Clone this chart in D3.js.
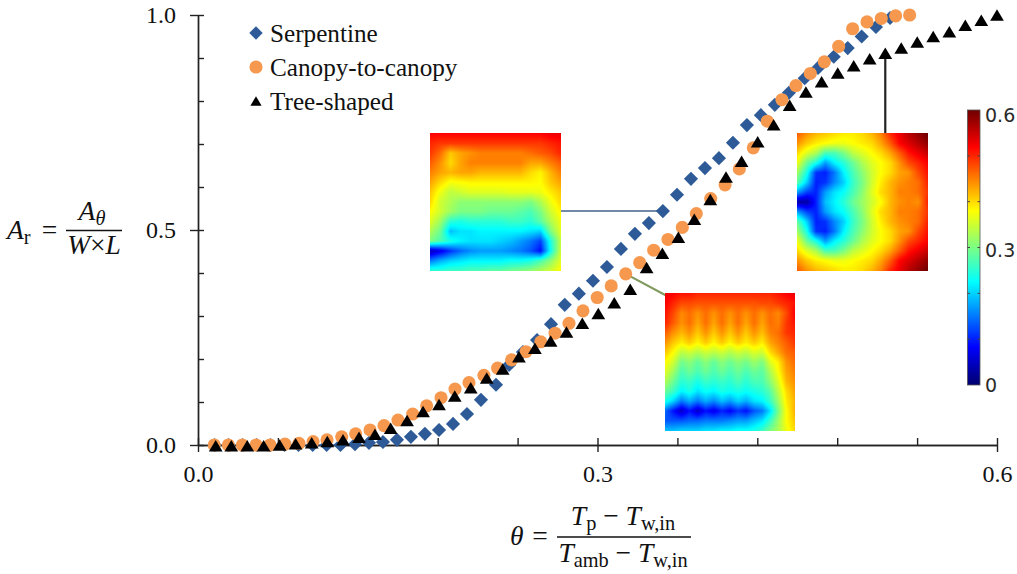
<!DOCTYPE html>
<html>
<head>
<meta charset="utf-8">
<script src="https://cdn.jsdelivr.net/npm/d3@7"></script>
<style>
body { margin: 0; background: #fff; }
svg { display: block; }
text { font-family: "Liberation Serif", serif; fill: #111; }
.cbar text { font-family: "DejaVu Sans", sans-serif; fill: #2a2a2a; }
</style>
</head>
<body>
<div id="graph1"></div>
<script>
// series
var serpentineX = [.0125,.023,.0335,.044,.0545,.065,.0755,.0861,.0966,.107,.1179,.1284,.1389,.1494,.1599,.1704,.181,.1915,.202,.2125,.2238,.2336,.244,.2546,.2651,.2754,.286,.2966,.3071,.3176,.3281,.3386,.3491,.3597,.3702,.3807,.3912,.4017,.4122,.4227,.4332,.4437,.4556,.4656,.4774,.4879,.4984,.5091,.5197];
var serpentineY = [0,0,0,0,0,0,0,0,0,0,.002,.005,.007,.012,.019,.026,.035,.049,.072,.105,.14,.186,.216,.244,.281,.326,.352,.382,.414,.456,.491,.516,.544,.582,.619,.644,.667,.703,.744,.767,.791,.819,.853,.877,.903,.923,.95,.972,.993];

var canopyX = [.0122,.0228,.0333,.0436,.0541,.0653,.0758,.0864,.0969,.1079,.1184,.1292,.1397,.1502,.1612,.1717,.1825,.193,.2035,.2147,.225,.2355,.2463,.2574,.2681,.2786,.2891,.2998,.3103,.3212,.3317,.3422,.3529,.3637,.3742,.385,.3958,.4065,.417,.4275,.4385,.449,.4598,.4703,.4811,.4916,.5024,.5131,.5239,.5344];
var canopyY = [0,0,0,0,0,.002,.004,.008,.012,.019,.026,.035,.045,.058,.072,.091,.11,.13,.145,.162,.179,.198,.217,.24,.26,.283,.312,.343,.37,.398,.424,.453,.478,.506,.538,.573,.605,.642,.691,.753,.803,.836,.864,.891,.927,.968,.984,.992,.998,1];

var treeX = [.0133,.025,.037,.0493,.0613,.0733,.0854,.0971,.1089,.1209,.1329,.1447,.157,.169,.181,.1928,.2048,.2168,.2288,.241,.253,.2648,.2767,.2886,.3006,.3126,.3246,.3369,.3487,.3607,.3727,.3847,.3965,.4082,.4203,.4323,.4443,.4565,.4683,.4804,.4924,.5044,.5161,.5281,.5401,.5521,.5642,.5762,.5882,.6];
var treeY = [-.002,-.002,-.002,-.002,0,.003,.005,.008,.012,.018,.025,.039,.057,.078,.094,.114,.133,.156,.177,.205,.225,.242,.263,.283,.306,.331,.362,.413,.446,.483,.525,.571,.623,.66,.705,.745,.79,.821,.845,.865,.882,.898,.911,.923,.937,.95,.961,.976,.988,1];

var seriesNames = ["Serpentine", "Canopy-to-canopy", "Tree-shaped"];
var xMajor = [0, .3, .6];
var xMinor = [.06, .12, .18, .24, .36, .42, .48, .54];
var yMajor = [0, .5, 1];
var yMinor = [.1, .2, .3, .4, .6, .7, .8, .9];
var cbarStops = [0, .083, .225, .38, .52, .6];
var cbarColors = ["#00006e", "#0000ff", "#00ffff", "#ffff00", "#ff0000", "#6e0000"];
var cbarLabels = [0, .3, .6];
var cbarTicks = [.1, .2, .3, .4, .5];

// temperature fields of the three plates
var serpentineField = [
[.52,.52,.52,.52,.52,.52,.52,.52,.52,.52,.52,.52,.53,.53],
[.50,.49,.49,.49,.49,.49,.49,.49,.49,.49,.49,.49,.50,.51],
[.49,.46,.41,.43,.44,.45,.45,.45,.45,.45,.46,.47,.48,.50],
[.47,.44,.40,.43,.45,.45,.45,.45,.45,.45,.43,.43,.45,.47],
[.45,.43,.42,.43,.43,.42,.42,.42,.42,.42,.40,.385,.42,.45],
[.43,.40,.375,.38,.385,.385,.385,.385,.385,.385,.385,.38,.41,.43],
[.41,.37,.34,.35,.36,.36,.36,.36,.365,.365,.365,.37,.39,.41],
[.40,.35,.33,.31,.31,.31,.31,.31,.31,.31,.30,.33,.37,.40],
[.38,.35,.32,.30,.30,.30,.29,.29,.29,.28,.27,.30,.35,.385],
[.36,.32,.25,.24,.25,.25,.25,.25,.26,.26,.25,.28,.33,.37],
[.33,.29,.19,.21,.21,.22,.22,.22,.22,.22,.21,.20,.30,.36],
[.30,.27,.24,.22,.21,.21,.21,.20,.19,.17,.15,.12,.24,.34],
[.04,.07,.11,.14,.16,.17,.17,.17,.16,.15,.13,.09,.23,.345],
[.15,.18,.20,.21,.22,.22,.22,.22,.23,.23,.24,.27,.31,.36],
[.25,.25,.26,.26,.27,.27,.28,.28,.29,.30,.31,.33,.35,.38]
];
var canopyField = [
[.53,.52,.51,.51,.50,.50,.50,.50,.50,.50,.50,.50,.50,.50,.51,.52,.53],
[.52,.50,.48,.48,.475,.475,.475,.475,.475,.475,.475,.475,.48,.48,.49,.50,.51],
[.51,.48,.445,.46,.44,.46,.44,.46,.44,.46,.44,.46,.44,.46,.445,.48,.52],
[.50,.47,.44,.46,.43,.46,.43,.46,.43,.46,.43,.46,.43,.46,.45,.49,.51],
[.47,.44,.42,.44,.41,.44,.41,.44,.41,.44,.41,.44,.415,.45,.46,.49,.50],
[.44,.41,.39,.41,.385,.41,.385,.41,.385,.41,.39,.41,.39,.43,.45,.47,.49],
[.41,.38,.34,.35,.335,.35,.34,.35,.335,.35,.34,.36,.35,.40,.43,.46,.47],
[.38,.35,.295,.31,.285,.31,.285,.31,.29,.31,.295,.32,.30,.36,.39,.44,.46],
[.36,.32,.27,.29,.27,.29,.27,.29,.27,.29,.27,.29,.28,.33,.38,.43,.45],
[.33,.29,.25,.26,.24,.26,.25,.26,.25,.27,.25,.27,.27,.31,.36,.42,.44],
[.29,.26,.22,.24,.21,.23,.22,.24,.23,.24,.23,.24,.25,.28,.34,.40,.43],
[.24,.20,.15,.18,.15,.18,.16,.19,.17,.20,.18,.21,.22,.26,.32,.39,.42],
[.14,.09,.05,.09,.05,.09,.07,.10,.08,.11,.09,.13,.15,.21,.30,.38,.42],
[.13,.13,.13,.14,.14,.15,.15,.15,.16,.17,.17,.19,.21,.26,.32,.38,.41],
[.19,.19,.20,.20,.20,.21,.21,.22,.22,.23,.23,.24,.26,.30,.33,.37,.40]
];
var treeField = [
[.47,.44,.42,.41,.40,.39,.39,.40,.42,.45,.50,.53,.56,.58,.60],
[.44,.41,.39,.38,.37,.37,.38,.39,.40,.43,.47,.52,.54,.56,.58],
[.40,.36,.33,.27,.27,.30,.34,.36,.38,.40,.43,.47,.51,.53,.55],
[.37,.29,.24,.17,.22,.25,.29,.33,.36,.38,.40,.44,.48,.50,.52],
[.32,.24,.11,.10,.15,.22,.27,.31,.35,.38,.40,.43,.44,.48,.51],
[.28,.20,.10,.11,.16,.20,.26,.30,.35,.39,.42,.44,.45,.46,.50],
[.17,.12,.10,.17,.21,.23,.27,.31,.36,.40,.42,.45,.45,.46,.49],
[.03,.03,.10,.19,.22,.25,.29,.32,.35,.38,.42,.44,.45,.44,.50],
[.17,.12,.10,.17,.21,.23,.27,.31,.36,.40,.42,.45,.45,.46,.49],
[.28,.20,.10,.11,.16,.20,.26,.30,.35,.39,.42,.44,.45,.46,.50],
[.32,.24,.11,.10,.15,.22,.27,.31,.35,.38,.40,.43,.44,.48,.51],
[.37,.29,.24,.17,.22,.25,.29,.33,.36,.38,.40,.44,.48,.50,.52],
[.40,.36,.33,.27,.27,.30,.34,.36,.38,.40,.43,.47,.51,.53,.55],
[.44,.41,.39,.38,.37,.37,.38,.39,.40,.43,.47,.52,.54,.56,.58],
[.47,.44,.42,.41,.40,.39,.39,.40,.42,.45,.50,.53,.56,.58,.60]
];

var width = 1017, height = 574;
var svg = d3.select("#graph1").append("svg")
    .attr("width", width)
    .attr("height", height);

var xScale = d3.scaleLinear().domain([0, .6]).range([198, 997]);
var yScale = d3.scaleLinear().domain([0, 1]).range([445, 15]);
var colorScale = d3.scaleLinear().domain(cbarStops).range(cbarColors);

var axisColor = "#222";

// axes, major ticks cross the line, minor ticks point inwards
var xAxis = svg.append("g")
    .attr("transform", "translate(0,445)")
    .call(d3.axisBottom(xScale).tickValues(xMajor).tickFormat(d3.format(".1f")).tickSize(7).tickSizeOuter(0));
xAxis.selectAll(".tick line").attr("y1", -7);
xAxis.selectAll(".tick text").attr("y", 20).style("font-size", "24px").attr("dy", ".71em");
svg.append("g")
    .attr("transform", "translate(0,445)")
    .call(d3.axisBottom(xScale).tickValues(xMinor).tickFormat("").tickSize(-7).tickSizeOuter(0));

var yAxis = svg.append("g")
    .attr("transform", "translate(198,0)")
    .call(d3.axisLeft(yScale).tickValues(yMajor).tickFormat(d3.format(".1f")).tickSize(8).tickSizeOuter(0));
yAxis.selectAll(".tick line").attr("x1", 6);
yAxis.selectAll(".tick text").attr("x", -22).style("font-size", "24px");
svg.append("g")
    .attr("transform", "translate(198,0)")
    .call(d3.axisLeft(yScale).tickValues(yMinor).tickFormat("").tickSize(-6).tickSizeOuter(0));
svg.selectAll(".domain, .tick line").attr("stroke", axisColor).attr("stroke-width", 1.4);

// leaders from the plates to the curves
function leader(color, w, x1, y1, x2, y2) {
    svg.append("line")
        .attr("x1", x1).attr("y1", y1).attr("x2", x2).attr("y2", y2)
        .attr("stroke", color).attr("stroke-width", w);
}
leader("#7188a8", 2, 558, 211, xScale(serpentineX[32]), yScale(serpentineY[32]));
leader("#7f9a5c", 2, xScale(canopyX[29]), yScale(canopyY[29]), 667, 296);
leader("#222", 2.2, xScale(treeX[42]), yScale(treeY[42]), xScale(treeX[42]), 134);

// triangle centred on its bounding box
var triangleMark = {
    draw: function(context, size) {
        var s = Math.sqrt(size);
        context.moveTo(0, -s * .47);
        context.lineTo(s * .56, s * .47);
        context.lineTo(-s * .56, s * .47);
        context.closePath();
    }
};
var diamondMark = {
    draw: function(context, size) {
        var r = Math.sqrt(size / 2);
        context.moveTo(0, -r);
        context.lineTo(r, 0);
        context.lineTo(0, r);
        context.lineTo(-r, 0);
        context.closePath();
    }
};

function drawSeries(xs, ys, mark, size, color) {
    svg.append("g").selectAll("path")
        .data(d3.zip(xs, ys))
        .enter().append("path")
        .attr("d", d3.symbol().type(mark).size(size))
        .attr("fill", color)
        .attr("transform", function(d) { return "translate(" + xScale(d[0]) + "," + yScale(d[1]) + ")"; });
}
drawSeries(serpentineX, serpentineY, diamondMark, 100, "#2e5b98");
drawSeries(canopyX, canopyY, d3.symbolCircle, 135, "#f6994f");
drawSeries(treeX, treeY, triangleMark, 150, "#000");

// legend
var legendMarks = [[diamondMark, 90, "#2e5b98"], [d3.symbolCircle, 135, "#f6994f"], [triangleMark, 100, "#000"]];
var legendY = d3.scalePoint().domain(seriesNames).range([33, 101]);
var legend = svg.append("g").selectAll("g")
    .data(seriesNames)
    .enter().append("g")
    .attr("transform", function(d) { return "translate(256," + legendY(d) + ")"; });
legend.append("path")
    .attr("d", function(d, i) { return d3.symbol().type(legendMarks[i][0]).size(legendMarks[i][1])(); })
    .attr("fill", function(d, i) { return legendMarks[i][2]; });
legend.append("text")
    .attr("x", 14)
    .attr("y", 8.5)
    .style("font-size", "25.2px")
    .text(function(d) { return d; });

// heat map plates, bilinear between the read values
function drawField(field, x0, y0, w, h) {
    var canvas = document.createElement("canvas");
    canvas.width = w;
    canvas.height = h;
    var ctx = canvas.getContext("2d");
    var rows = field.length, cols = field[0].length;
    for (var py = 0; py < h; py++) {
        for (var px = 0; px < w; px++) {
            var fx = px / (w - 1) * (cols - 1), fy = py / (h - 1) * (rows - 1);
            var i = Math.min(Math.floor(fy), rows - 2), j = Math.min(Math.floor(fx), cols - 2);
            var tx = fx - j, ty = fy - i;
            var v = d3.interpolateNumber(
                d3.interpolateNumber(field[i][j], field[i][j + 1])(tx),
                d3.interpolateNumber(field[i + 1][j], field[i + 1][j + 1])(tx))(ty);
            ctx.fillStyle = colorScale(v);
            ctx.fillRect(px, py, 1, 1);
        }
    }
    svg.append("image")
        .attr("x", x0).attr("y", y0)
        .attr("width", w).attr("height", h)
        .attr("href", canvas.toDataURL());
}
drawField(serpentineField, 430, 133, 131, 138);
drawField(canopyField, 665, 293, 130, 138);
drawField(treeField, 797, 133, 131, 138);

// colour bar
var cbarY = d3.scaleLinear().domain([0, .6]).range([385, 110]);
var cbarLabelY = d3.scaleLinear().domain([0, .6]).range([385, 115]);
var grad = svg.append("defs").append("linearGradient")
    .attr("id", "cbarFill")
    .attr("x1", 0).attr("y1", 1).attr("x2", 0).attr("y2", 0);
grad.selectAll("stop")
    .data(cbarStops)
    .enter().append("stop")
    .attr("offset", function(d) { return d / .6; })
    .attr("stop-color", function(d, i) { return cbarColors[i]; });
var cbar = svg.append("g").attr("class", "cbar");
cbar.append("rect")
    .attr("x", 967.5).attr("y", cbarY(.6))
    .attr("width", 12.5).attr("height", cbarY(0) - cbarY(.6))
    .attr("fill", "url(#cbarFill)")
    .attr("stroke", "#555")
    .attr("stroke-width", .8);
cbar.selectAll(".minor")
    .data(cbarTicks)
    .enter().append("path")
    .attr("class", "minor")
    .attr("d", function(d) {
        var y = cbarY(d);
        return "M967.5," + y + "h2.5M980," + y + "h-2.5";
    })
    .attr("stroke", "#444");
cbar.selectAll("text")
    .data(cbarLabels)
    .enter().append("text")
    .attr("x", 985)
    .attr("y", cbarLabelY)
    .attr("dy", ".36em")
    .style("font-size", "19px")
    .text(function(d) { return d === 0 ? "0" : d3.format(".1f")(d); });

// equations, each part is [text, italic, subscript]
function mathText(x, y, anchor, parts, size) {
    var t = svg.append("text")
        .attr("x", x).attr("y", y)
        .attr("text-anchor", anchor)
        .style("font-size", size + "px");
    var wasSub = false;
    parts.forEach(function(p) {
        var sub = p[2] === 1;
        var dy = (sub ? 5 : 0) - (wasSub ? 5 : 0);
        t.append("tspan")
            .attr("dy", dy)
            .style("font-style", p[1] === 1 ? "italic" : "normal")
            .style("font-size", (sub ? size * .74 : size) + "px")
            .text(p[0]);
        wasSub = sub;
    });
}
function fracLine(x1, x2, y) {
    svg.append("line").attr("x1", x1).attr("x2", x2).attr("y1", y).attr("y2", y)
        .attr("stroke", "#111").attr("stroke-width", 1.6);
}

mathText(7, 239, "start", [["A", 1], ["r", 0, 1]], 27.5);
mathText(49.5, 239, "middle", [["=", 0]], 27.5);
fracLine(66, 122, 230.5);
mathText(92, 220, "middle", [["A", 1], ["θ", 1, 1]], 27.5);
mathText(94, 254, "middle", [["W", 1], ["×", 0], ["L", 1]], 27.5);

mathText(510, 545, "start", [["θ", 1]], 27.5);
mathText(540, 545, "middle", [["=", 0]], 27.5);
fracLine(557, 691, 537);
mathText(623, 525, "middle", [["T", 1], ["p", 0, 1], [" − ", 0], ["T", 1], ["w,in", 0, 1]], 27.5);
mathText(623, 562, "middle", [["T", 1], ["amb", 0, 1], [" − ", 0], ["T", 1], ["w,in", 0, 1]], 27.5);
</script>
</body>
</html>
